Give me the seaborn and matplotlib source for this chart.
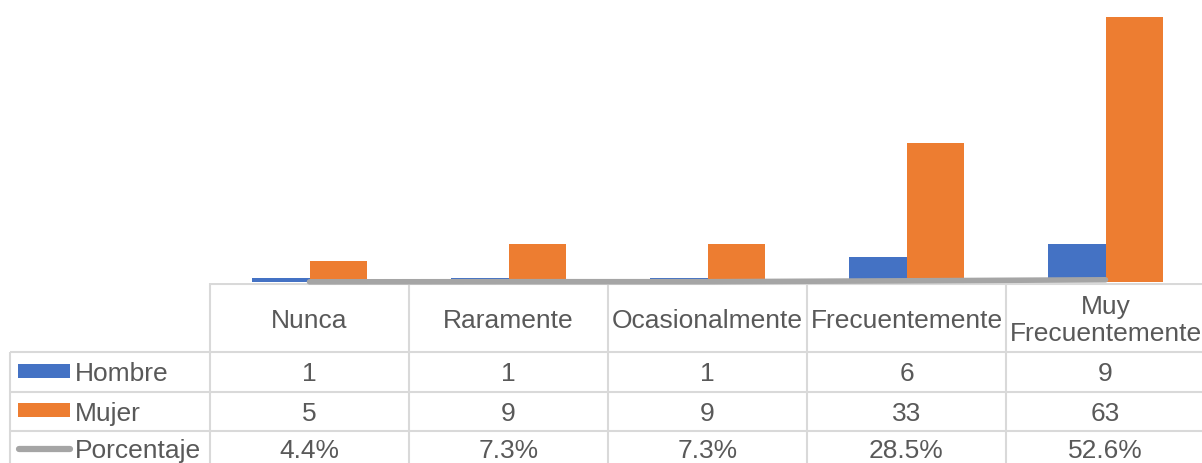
import numpy as np
import pandas as pd
import matplotlib
matplotlib.use("Agg")
import matplotlib.pyplot as plt
import seaborn as sns
from matplotlib.patches import Rectangle

categories = ["Nunca", "Raramente", "Ocasionalmente", "Frecuentemente", "Muy\nFrecuentemente"]
hombre = [1, 1, 1, 6, 9]
mujer = [5, 9, 9, 33, 63]
porcentaje = [0.044, 0.073, 0.073, 0.285, 0.526]
series_names = ["Hombre", "Mujer", "Porcentaje"]

BLUE = "#4472C4"
ORANGE = "#ED7D31"
GRAY = "#A5A5A5"
TXT = "#595959"
GRID = "#D9D9D9"

sns.set_theme(style="white")
plt.rcParams["font.family"] = ["Liberation Sans", "DejaVu Sans"]

df = pd.DataFrame({
    "Categoria": categories * 2,
    "Valor": hombre + mujer,
    "Serie": [series_names[0]] * len(categories) + [series_names[1]] * len(categories),
})

W, H = 1202, 464
fig = plt.figure(figsize=(W / 100, H / 100), dpi=100)
unit = 199.0  # px per category
left_px, base_px = 210, 283

# Data table below (drawn first, underneath the plot)
tab_h = H - 284
ax_t = fig.add_axes([0, 0, (left_px + 5 * unit) / W, tab_h / H])
ax_t.set_zorder(1)
ax = fig.add_axes([left_px / W, 1 - base_px / H, 5 * unit / W, base_px / H])
ax.set_zorder(2)
ax.patch.set_visible(False)

sns.barplot(data=df, x="Categoria", y="Valor", hue="Serie", order=categories,
            hue_order=series_names[:2], palette=[BLUE, ORANGE], saturation=1,
            width=0.573, linewidth=0, ax=ax, legend=False)
sns.lineplot(x=np.arange(len(categories)), y=porcentaje, ax=ax, color=GRAY,
             linewidth=4.0, solid_capstyle="round", clip_on=False, zorder=5)
ax.set_xlim(-0.5, len(categories) - 0.5)
ax.set_ylim(0, 63 * base_px / 265)
ax.set_axis_off()

ax_t.set_xlim(-0.5 - left_px / unit, len(categories) - 0.5)
ax_t.set_ylim(tab_h, 0)
ax_t.set_axis_off()

x0 = -0.5 - left_px / unit
xl = x0 + 10 / unit
xr = len(categories) - 0.5
rows_y = [69, 109, 148]
lkw = dict(color=GRID, lw=1.5, solid_capstyle="butt")
ax_t.plot([-0.5, xr], [0.5, 0.5], **lkw)
for y in rows_y:
    ax_t.plot([xl, xr], [y, y], **lkw)
for i in range(len(categories)):
    ax_t.plot([-0.5 + i, -0.5 + i], [0, tab_h], **lkw)
ax_t.plot([xl, xl], [rows_y[0], tab_h], **lkw)

fs = 19
for i, c in enumerate(categories):
    ax_t.text(i, 36.5, c, ha="center", va="center", fontsize=fs, color=TXT, linespacing=1.15)

row_centers = [90.5, 130, 167]
for r, vals in enumerate([hombre, mujer]):
    for i, v in enumerate(vals):
        ax_t.text(i, row_centers[r], f"{v}", ha="center", va="center", fontsize=fs, color=TXT)
for i, v in enumerate(porcentaje):
    ax_t.text(i, row_centers[2], f"{v * 100:.1f}%", ha="center", va="center", fontsize=fs, color=TXT)

# legend keys
key_y = [88, 127, 165.5]
for r, col in enumerate([BLUE, ORANGE]):
    ax_t.add_patch(Rectangle((x0 + 18 / unit, key_y[r] - 7), 52 / unit, 14,
                             facecolor=col, edgecolor="none"))
ax_t.plot([x0 + 19 / unit, x0 + 70 / unit], [key_y[2], key_y[2]],
          color=GRAY, lw=4.5, solid_capstyle="round")
for r, name in enumerate(series_names):
    ax_t.text(x0 + 75 / unit, row_centers[r], name, ha="left", va="center",
              fontsize=fs, color=TXT)

fig.savefig("out.png", dpi=100)
